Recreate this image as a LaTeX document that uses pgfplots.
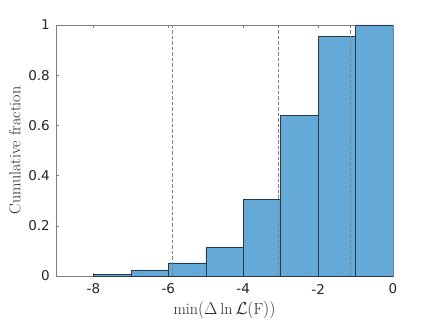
\documentclass[border=0pt]{standalone}
\usepackage{fontspec}
\setsansfont{DejaVu Sans}
\usepackage{pgfplots}
\pgfplotsset{compat=1.18}
\definecolor{barfill}{RGB}{100,169,216}
\definecolor{baredge}{RGB}{40,58,72}
\definecolor{axgray}{RGB}{128,128,128}
\definecolor{dashgray}{RGB}{130,130,130}
\begin{document}
\begin{tikzpicture}
  \path[use as bounding box] (-56pt,-45pt) rectangle (380pt,276pt);
  \begin{axis}[
      at={(0,0)}, anchor=south west,
      scale only axis,
      width=337pt, height=251pt,
      xmin=-9, xmax=0,
      ymin=0, ymax=1,
      xtick={-8,-6,-4,-2,0},
      ytick={0,0.2,0.4,0.6,0.8,1},
      tick align=inside,
      major tick length=3pt,
      tick style={axgray, line width=0.5pt},
      axis line style={axgray, line width=0.5pt},
      ticklabel style={font=\sffamily\fontsize{13.5}{15}\selectfont, text=black!85, inner sep=0pt},
      xticklabel style={anchor=center, yshift=-13pt},
      yticklabel style={anchor=east, xshift=-6pt},
      /pgf/number format/assume math mode=true,
      xlabel={$\min(\Delta\ln\mathcal{L}(\mathrm{F}))$},
      ylabel={Cumulative fraction},
      label style={font=\fontsize{16}{18}\selectfont, text=black!85},
      xlabel style={at={(axis description cs:0.5,-0.1355)}, anchor=center},
      ylabel style={at={(axis description cs:-0.122,0.5)}, anchor=center},
    ]
    \addplot[ybar interval, fill=barfill, draw=baredge, line width=0.5pt]
      coordinates {
        (-8,0.007) (-7,0.023) (-6,0.052) (-5,0.114) (-4,0.306)
        (-3,0.641) (-2,0.955) (-1,1.0) (0,1.0)
      };
    \addplot[dashgray, line width=0.6pt, dash pattern=on 3.5pt off 2pt] coordinates {(-5.9,0) (-5.9,1)};
    \addplot[dashgray, line width=0.6pt, dash pattern=on 3.5pt off 2pt] coordinates {(-3.07,0) (-3.07,1)};
    \addplot[dashgray, line width=0.6pt, dash pattern=on 3.5pt off 2pt] coordinates {(-1.15,0) (-1.15,1)};
  \end{axis}
\end{tikzpicture}
\end{document}
